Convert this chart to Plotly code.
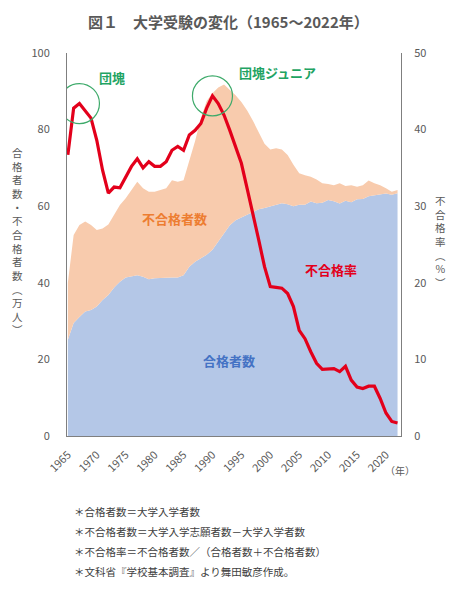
import plotly.graph_objects as go

years = list(range(1965, 2023))

# 合格者数（万人）
passed = [25.1, 29.5, 31.1, 32.5, 32.9, 33.8, 35.5, 36.8, 38.8, 40.3,
          41.4, 41.8, 42.0, 41.6, 40.9, 41.2, 41.2, 41.3, 41.4, 41.4,
          42.0, 44.2, 45.5, 46.4, 47.3, 48.6, 50.7, 53.0, 55.0, 56.3,
          57.0, 57.9, 58.6, 59.2, 59.5, 59.9, 60.3, 60.8, 60.5, 60.0,
          60.4, 60.4, 61.2, 60.8, 60.9, 61.6, 61.3, 60.7, 61.4, 61.0,
          61.8, 61.9, 62.6, 62.8, 63.0, 63.3, 63.0, 63.4]

# 志願者数 = 合格者数 + 不合格者数（万人）
applicants = [40.0, 52.5, 55.1, 56.0, 55.1, 53.8, 54.2, 55.2, 57.8, 60.3,
              62.1, 64.2, 66.4, 64.7, 63.8, 63.8, 64.2, 64.7, 66.8, 66.4,
              66.8, 72.0, 77.0, 83.0, 87.5, 89.5, 91.0, 91.8, 90.5, 89.0,
              87.2, 85.0, 82.3, 79.2, 76.3, 74.8, 75.1, 74.8, 73.4, 70.8,
              68.6, 68.1, 67.7, 67.0, 66.0, 65.8, 65.5, 66.0, 65.3, 65.5,
              65.1, 65.5, 66.7, 66.0, 65.5, 64.7, 63.8, 64.2]

# 不合格率（%）
fail_rate = [36.7, 42.8, 43.4, 42.5, 41.5, 38.6, 34.7, 31.7, 32.5, 32.4,
             33.7, 35.2, 36.2, 35.0, 35.8, 35.2, 35.2, 35.8, 37.3, 37.8,
             37.3, 39.3, 39.9, 40.8, 42.8, 44.4, 43.4, 41.9, 39.9, 37.8,
             35.6, 32.3, 29.1, 25.6, 22.1, 19.5, 19.4, 19.3, 18.6, 16.9,
             13.8, 12.7, 11.0, 9.5, 8.7, 8.8, 8.8, 8.4, 9.1, 7.3,
             6.4, 6.2, 6.5, 6.5, 4.9, 3.0, 1.9, 1.7]

x_ticks = list(range(1965, 2021, 5))
y_ticks = [0, 20, 40, 60, 80, 100]
y2_ticks = [0, 10, 20, 30, 40, 50]

W, H = 456, 589
L, R, T, B = 67, 401, 53, 436
FONT = "Noto Sans CJK JP"
GRAY = "#595959"


def px(x):
    return (x - L) / (R - L)


def py(y):
    return (B - y) / (B - T)


fig = go.Figure()
fig.add_trace(go.Scatter(x=years, y=passed, mode="lines", line=dict(width=0),
                         fill="tozeroy", fillcolor="#B4C7E7", hoverinfo="skip"))
fig.add_trace(go.Scatter(x=years, y=applicants, mode="lines", line=dict(width=0),
                         fill="tonexty", fillcolor="#F8CBAD", hoverinfo="skip"))
fig.add_trace(go.Scatter(x=years, y=fail_rate, mode="lines", yaxis="y2",
                         line=dict(color="#E3001B", width=3.2)))

axis_font = dict(family=FONT, size=11, color=GRAY)

fig.update_layout(
    width=W, height=H,
    margin=dict(l=L, r=W - R, t=T, b=H - B, autoexpand=False),
    paper_bgcolor="white", plot_bgcolor="white",
    showlegend=False,
    font=dict(family=FONT),
    xaxis=dict(range=[1964.85, 2022.6], tickvals=x_ticks, tickangle=-45,
               showgrid=False, zeroline=False, showline=True, linecolor="#7F7F7F",
               linewidth=1, ticks="", ticklabelstandoff=7,
               tickfont=dict(family=FONT, size=11, color=GRAY)),
    yaxis=dict(range=[0, 100], tickvals=y_ticks, showgrid=False, zeroline=False,
               showline=True, linecolor="#7F7F7F", linewidth=1, ticks="",
               ticklabelstandoff=14, tickfont=axis_font),
    yaxis2=dict(range=[0, 50], tickvals=y2_ticks, overlaying="y", side="right",
                showgrid=False, zeroline=False, showline=True, linecolor="#7F7F7F",
                linewidth=1, ticks="", ticklabelstandoff=10, tickfont=axis_font),
)

ann = []


def add(text, x, y, size, color, bold=False, xanchor="center"):
    t = f"<b>{text}</b>" if bold else text
    ann.append(dict(text=t, x=px(x), y=py(y), xref="paper", yref="paper",
                    xanchor=xanchor, yanchor="middle", showarrow=False,
                    font=dict(family=FONT, size=size, color=color)))


add("図１　大学受験の変化（1965～2022年）", 228, 22, 15, GRAY, bold=True)
add("団塊", 112, 77, 13, "#1FA463", bold=True)
add("団塊ジュニア", 277, 72, 13, "#1FA463", bold=True)
add("不合格者数", 174, 219, 13, "#ED7D31", bold=True)
add("不合格率", 331, 269, 13, "#E3001B", bold=True)
add("合格者数", 229, 360, 13, "#4472C4", bold=True)
add("<br>".join(list("合格者数・不合格者数︵万人︶")), 17, 241, 10.5, GRAY)
add("<br>".join(["不", "合", "格", "率", "︵", "%", "︶"]), 440, 241, 10.5, GRAY)
add("（年）", 400, 471, 10, GRAY)

notes = ["＊合格者数＝大学入学者数",
         "＊不合格者数＝大学入学志願者数－大学入学者数",
         "＊不合格率＝不合格者数／（合格者数＋不合格者数）",
         "＊文科省『学校基本調査』より舞田敏彦作成。"]
for i, n in enumerate(notes):
    add(n, 72, 511 + 20 * i, 10.5, "#404040", xanchor="left")

fig.update_layout(annotations=ann)

# circles around the two peaks of the fail rate
shapes = []
for lo, hi in [(1965, 1975), (1985, 1995)]:
    idx = [i for i, y in enumerate(years) if lo <= y <= hi]
    k = max(idx, key=lambda i: fail_rate[i])
    cx, cy = years[k], fail_rate[k]
    rx, ry = 20 / 5.78, 20 / 7.66
    shapes.append(dict(type="circle", xref="x", yref="y2",
                       x0=cx - rx, x1=cx + rx, y0=cy - ry, y1=cy + ry,
                       line=dict(color="#3DAA6A", width=1.2)))
fig.update_layout(shapes=shapes)

fig.write_html("out.html", config={"displayModeBar": False},
               post_script="document.body.style.margin='0';document.body.style.overflow='hidden';")
